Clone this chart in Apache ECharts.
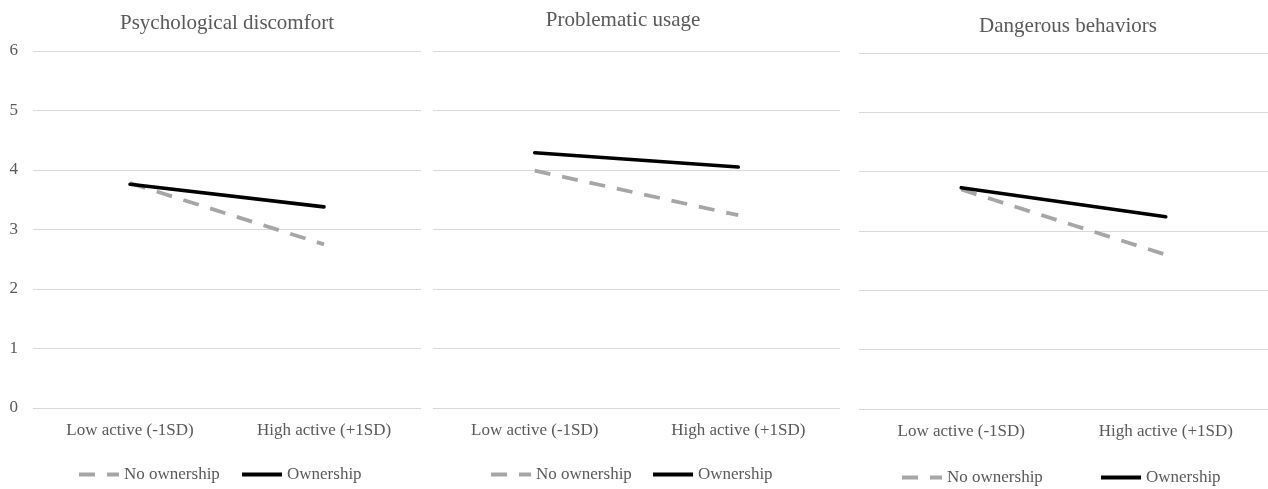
<!DOCTYPE html>
<html>
<head>
<meta charset="utf-8">
<script src="https://cdn.jsdelivr.net/npm/echarts@6/dist/echarts.min.js"></script>
<style>html,body{margin:0;padding:0;background:#fff;}#c{width:1268px;height:489px;}</style>
</head>
<body>
<div id="c"></div>
<script>
const categories = ['Low active (-1SD)', 'High active (+1SD)'];
const panelTitles = ['Psychological discomfort', 'Problematic usage', 'Dangerous behaviors'];
const seriesNames = ['No ownership', 'Ownership'];
const noOwnership = [
  [3.78, 2.75],
  [3.99, 3.24],
  [3.70, 2.60]
];
const ownership = [
  [3.76, 3.38],
  [4.29, 4.05],
  [3.73, 3.24]
];
const yTicks = [0, 1, 2, 3, 4, 5, 6];

const FONT = '"Liberation Serif", "Times New Roman", serif';
const TXT = '#595959';
const GRAY = '#a6a6a6';
const grids = [
  {left: 33, top: 51, width: 388, height: 357},
  {left: 433, top: 51, width: 407, height: 357},
  {left: 859, top: 53, width: 409, height: 356}
];
const titlePos = [{x: 227, top: 13}, {x: 623, top: 10}, {x: 1068, top: 16}];
const legendPos = [
  {no: 79, own: 242, top: 466},
  {no: 491, own: 653, top: 466},
  {no: 902, own: 1101, top: 469}
];
const legendIcons = [
  'path://M0,0h16v4h-16z M28,0h12v4h-12z',
  'path://M0,0h40v4h-40z'
];

const option = {
  backgroundColor: '#fff',
  animation: false,
  title: panelTitles.map((t, i) => ({
    text: t, left: titlePos[i].x, top: titlePos[i].top, textAlign: 'center', padding: 0,
    textStyle: {fontFamily: FONT, fontSize: 21, fontWeight: 'normal', color: TXT}
  })),
  grid: grids.map(g => Object.assign({containLabel: false}, g)),
  xAxis: grids.map((g, i) => ({
    type: 'category', gridIndex: i, data: categories, boundaryGap: true,
    axisLine: {show: false}, axisTick: {show: false},
    axisLabel: {margin: 14, fontFamily: FONT, fontSize: 17, color: TXT}
  })),
  yAxis: grids.map((g, i) => ({
    type: 'value', gridIndex: i, min: yTicks[0], max: yTicks[yTicks.length - 1], interval: 1,
    axisLine: {show: false}, axisTick: {show: false},
    axisLabel: {show: i === 0, margin: 15, fontFamily: FONT, fontSize: 17, color: TXT},
    splitLine: {show: true, lineStyle: {color: '#d9d9d9', width: 1}}
  })),
  legend: [],
  series: []
};

for (let i = 0; i < 3; i++) {
  option.series.push({
    type: 'line', name: seriesNames[0], id: 'no' + i, xAxisIndex: i, yAxisIndex: i,
    data: noOwnership[i], symbol: 'none',
    lineStyle: {color: GRAY, width: 3.8, type: [16, 12]},
    itemStyle: {color: GRAY}, z: 2
  });
  option.series.push({
    type: 'line', name: seriesNames[1], id: 'own' + i, xAxisIndex: i, yAxisIndex: i,
    data: ownership[i], symbol: 'none',
    lineStyle: {color: '#000000', width: 3.6, type: 'solid', cap: 'round'},
    itemStyle: {color: '#000000'}, z: 3
  });
  [['no', 0], ['own', 1]].forEach(([k, s]) => {
    option.legend.push({
      left: legendPos[i][k], top: legendPos[i].top, padding: 0,
      itemWidth: 40, itemHeight: 4, selectedMode: false,
      data: [{name: seriesNames[s], icon: legendIcons[s],
              itemStyle: {color: s === 0 ? GRAY : '#000000', borderWidth: 0}}],
      itemStyle: {borderWidth: 0},
      lineStyle: {width: 0},
      textStyle: {fontFamily: FONT, fontSize: 17, color: TXT}
    });
  });
}

const chart = echarts.init(document.getElementById('c'), null, {renderer: 'canvas'});
chart.setOption(option);
</script>
</body>
</html>
